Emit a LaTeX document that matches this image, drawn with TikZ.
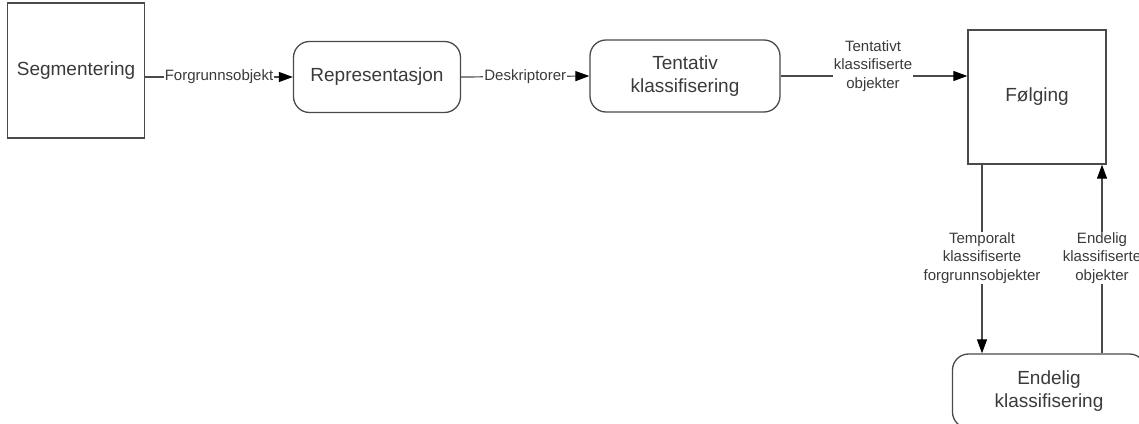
\documentclass[tikz,border=0pt]{standalone}
\usepackage{fontspec}
\setmainfont{Liberation Sans}
\usetikzlibrary{arrows.meta}
\definecolor{ink}{HTML}{3A3A3A}
\definecolor{edge}{HTML}{4A4A4A}
\begin{document}
\begin{tikzpicture}[x=1pt,y=-1pt,
  box/.style={draw=edge,line width=1.3pt,text=ink,align=center,
    font=\fontsize{19}{23}\selectfont,inner sep=0pt},
  roundbox/.style={box,rounded corners=16pt},
  flow/.style={draw=edge,line width=1.2pt,
    -{Triangle[length=14pt,width=10pt,color=black]}},
  lbl/.style={fill=white,text=ink,align=center,inner sep=1pt,
    font=\fontsize{15}{18.5}\selectfont}]
\useasboundingbox (0,0) rectangle (1139,423);
\begin{scope}
\clip (0,0) rectangle (1139,423);
% process blocks
\node[box,minimum width=137pt,minimum height=135pt] (seg) at (76,70.5) {Segmentering};
\node[roundbox,minimum width=167pt,minimum height=71pt] (rep) at (377,77) {Representasjon};
\node[roundbox,minimum width=190pt,minimum height=72pt] (tent) at (685,76) {Tentativ\\klassifisering};
\node[box,minimum width=138pt,minimum height=134pt] (folg) at (1037,97) {Følging};
\node[roundbox,minimum width=193pt,minimum height=74pt] (endk) at (1049,391) {Endelig\\klassifisering};
% connectors along the chain
\draw[flow] (seg.east |- rep.west) -- node[lbl] {Forgrunnsobjekt} (rep.west);
\draw[flow] (rep.east) -- node[lbl] {Deskriptorer} (tent.west);
\coordinate (tin) at (folg.west |- tent.east);
\draw[flow] (tent.east) -- (tin);
\node[lbl] (tlbl) at (873,66) {Tentativt\\klassifiserte\\objekter};
% feedback loop with the final classifier
\coordinate (dtop) at (982,0 |- folg.south);
\coordinate (dbot) at (982,0 |- endk.north);
\draw[flow] (dtop) -- (dbot);
\node[lbl] (dlbl) at (982,258) {Temporalt\\klassifiserte\\forgrunnsobjekter};
\coordinate (ubot) at (1102,0 |- endk.north);
\coordinate (utop) at (1102,0 |- folg.south);
\draw[flow] (ubot) -- (utop);
\node[lbl] (ulbl) at (1102,258) {Endelig\\klassifiserte\\objekter};
\end{scope}
\end{tikzpicture}
\end{document}
